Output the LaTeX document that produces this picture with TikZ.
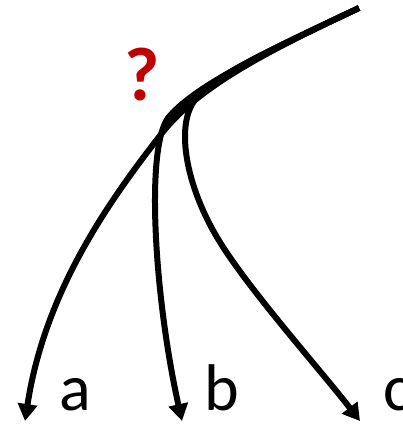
\documentclass[tikz,border=0pt]{standalone}
\usepackage{fontspec}
\setmainfont{Carlito}
\usepackage{tikz}
\usetikzlibrary{arrows.meta}
\definecolor{qred}{HTML}{C00000}

\begin{document}
\begin{tikzpicture}[x=1pt, y=-1pt, >={Triangle[length=17pt, width=19pt]},
    branch/.style={line width=6pt, ->},
    lbl/.style={anchor=base, inner sep=0pt, font=\fontsize{66}{70}\selectfont}]
  \useasboundingbox (0,0) rectangle (403,424);
  % start and arrow tips
  \coordinate (root) at (359,8);
  \coordinate (tipa) at (25,421);
  \coordinate (tipb) at (182,421);
  \coordinate (tipc) at (360,421);
  % the three branches
  \draw[branch] (root) .. controls (270,50) and (200,85) .. (162,133)
                       .. controls (110,200) and (45,290) .. (tipa);
  \draw[branch] (root) .. controls (270,50) and (195,85) .. (168,118)
                       .. controls (145,150) and (155,300) .. (tipb);
  \draw[branch] (root) .. controls (270,50) and (215,75) .. (195,100)
                       .. controls (175,125) and (185,190) .. (225,250)
                       .. controls (258,300) and (322,372) .. (tipc);
  % labels
  \node[lbl] (la) at (75,410) {a};
  \node[lbl] (lb) at (222,410) {b};
  \node[lbl] (lc) at (397,410) {c};
  \node[qred, inner sep=0pt, font=\fontsize{76}{80}\selectfont\bfseries] (qm) at (142,75) {?};
\end{tikzpicture}
\end{document}
